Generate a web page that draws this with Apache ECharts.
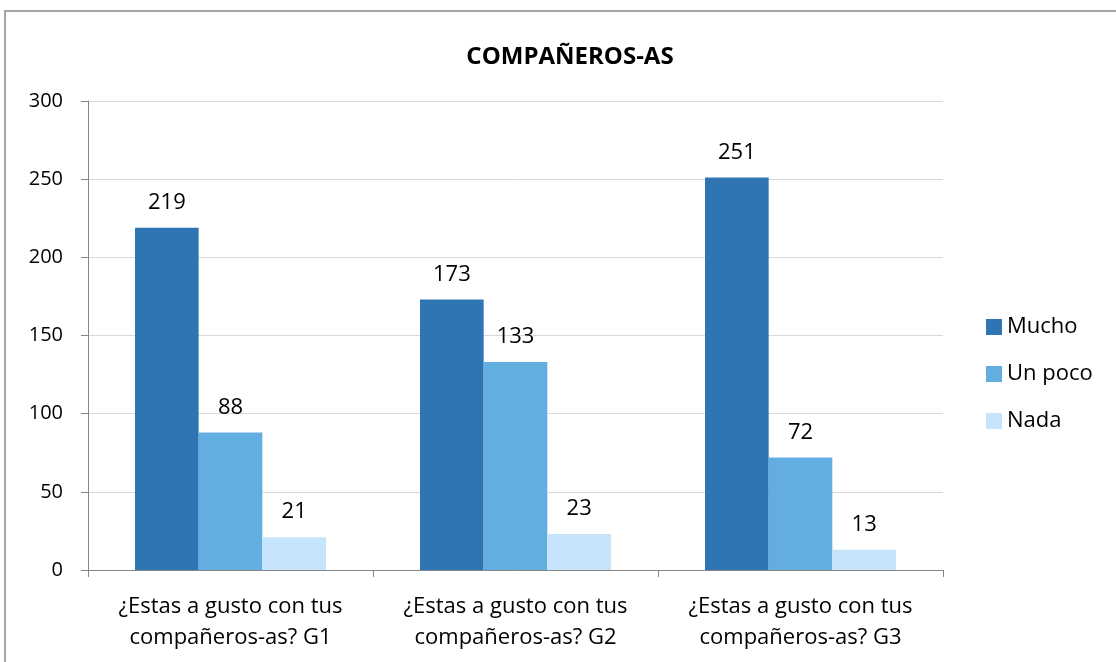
<!DOCTYPE html>
<html lang="es">
<head>
<meta charset="utf-8">
<title>COMPAÑEROS-AS</title>
<script src="https://cdn.jsdelivr.net/npm/echarts@6/dist/echarts.min.js"></script>
<style>
  html, body { margin: 0; padding: 0; background: #fff; overflow: hidden; }
  #frame { position: absolute; left: 4px; top: 10px; width: 1200px; height: 800px; border: 2px solid #a6a6a6; border-right: none; border-bottom: none; }
  #main { position: absolute; left: 0; top: 0; width: 1116px; height: 662px; }
</style>
</head>
<body>
<div id="frame"></div>
<div id="main"></div>
<script>
  var categories = [
    '¿Estas a gusto con tus\ncompañeros-as? G1',
    '¿Estas a gusto con tus\ncompañeros-as? G2',
    '¿Estas a gusto con tus\ncompañeros-as? G3'
  ];
  var seriesNames = ['Mucho', 'Un poco', 'Nada'];
  var mucho = [219, 173, 251];
  var unPoco = [88, 133, 72];
  var nada = [21, 23, 13];
  var colors = ['#2f75b3', '#62aee0', '#c6e4fb'];

  var font = 'Open Sans, Noto Sans, sans-serif';
  var chart = echarts.init(document.getElementById('main'), null, {renderer: 'canvas'});

  function bar(name, data, color) {
    return {
      name: name,
      type: 'bar',
      data: data,
      barGap: '0%',
      barCategoryGap: '33%',
      itemStyle: {color: color},
      label: {show: true, position: 'top', distance: 14, color: '#000', fontSize: 22, fontFamily: font},
      emphasis: {disabled: true}
    };
  }

  chart.setOption({
    animation: false,
    title: {
      text: 'COMPAÑEROS-AS',
      left: 565, top: 40, textAlign: 'center',
      textStyle: {fontSize: 24, fontWeight: 'bold', color: '#000', fontFamily: font}
    },
    legend: {
      orient: 'vertical',
      left: 981, top: 311,
      itemWidth: 16, itemHeight: 16, itemGap: 25,
      icon: 'rect',
      textStyle: {fontSize: 22, color: '#000', fontFamily: font},
      data: seriesNames
    },
    grid: {left: 88, right: 173, top: 101, bottom: 92},
    xAxis: {
      type: 'category',
      data: categories,
      axisLine: {lineStyle: {color: '#868686'}},
      axisTick: {show: true, length: 7, lineStyle: {color: '#868686'}},
      axisLabel: {fontSize: 22, color: '#000', fontFamily: font, lineHeight: 31, margin: 21, interval: 0}
    },
    yAxis: {
      type: 'value',
      min: 0, max: 300, interval: 50,
      axisLine: {show: true, lineStyle: {color: '#868686'}},
      axisTick: {show: true, length: 7, lineStyle: {color: '#868686'}},
      splitLine: {lineStyle: {color: '#d9d9d9'}},
      axisLabel: {fontSize: 20, color: '#000', fontFamily: font, margin: 25}
    },
    series: [
      bar(seriesNames[0], mucho, colors[0]),
      bar(seriesNames[1], unPoco, colors[1]),
      bar(seriesNames[2], nada, colors[2])
    ]
  });
</script>
</body>
</html>
